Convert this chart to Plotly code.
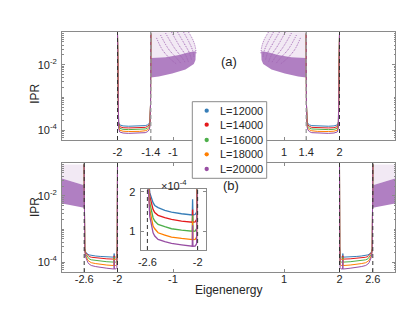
import plotly.graph_objects as go

# ---------------- data ----------------
L_values = [12000, 14000, 16000, 18000, 20000]
colors = ["#377eb8", "#e41a1c", "#4daf4a", "#ff7f00", "#984ea3"]

# extended band of panel (a): E in [-2,-1.4] and [1.4,2]; IPR in units of 1e-4
E_a_left = [-2.000, -1.996, -1.990, -1.980, -1.960, -1.900, -1.800, -1.700, -1.600,
            -1.500, -1.460, -1.430, -1.415, -1.405, -1.400]
E_a_right = [2.000, 1.996, 1.990, 1.980, 1.960, 1.900, 1.800, 1.700, 1.600,
             1.500, 1.460, 1.430, 1.415, 1.405, 1.400]
ipr_a = [
    [900, 40, 4.0, 1.80, 1.45, 1.35, 1.32, 1.32, 1.33, 1.38, 1.45, 1.60, 1.90, 6.0, 900],
    [900, 35, 3.5, 1.60, 1.28, 1.19, 1.17, 1.17, 1.18, 1.22, 1.30, 1.45, 1.75, 6.0, 900],
    [900, 30, 3.0, 1.45, 1.14, 1.06, 1.04, 1.04, 1.05, 1.09, 1.16, 1.30, 1.60, 6.0, 900],
    [900, 25, 2.6, 1.30, 1.00, 0.93, 0.91, 0.91, 0.92, 0.96, 1.02, 1.15, 1.45, 6.0, 900],
    [900, 20, 2.2, 1.15, 0.88, 0.82, 0.80, 0.80, 0.81, 0.84, 0.90, 1.02, 1.30, 6.0, 900],
]

# extended band of panel (b): E in [-2.6,-2] and [2,2.6]; IPR in units of 1e-4
E_b_left = [-2.600, -2.598, -2.590, -2.572, -2.552, -2.532, -2.512, -2.472, -2.392, -2.312,
            -2.192, -2.072, -2.064, -2.060, -2.056, -2.030, -2.012, -2.004, -2.000]
E_b_right = [2.600, 2.598, 2.590, 2.572, 2.552, 2.532, 2.512, 2.472, 2.392, 2.312,
             2.192, 2.072, 2.064, 2.060, 2.056, 2.030, 2.012, 2.004, 2.000]
ipr_b = [
    [900, 50, 2.6, 1.975, 1.81, 1.72, 1.65, 1.594, 1.525, 1.483, 1.44, 1.415, 1.41, 1.81, 1.41, 1.42, 1.48, 3.0, 900],
    [900, 45, 2.5, 1.89, 1.72, 1.55, 1.47, 1.40, 1.34, 1.297, 1.254, 1.229, 1.225, 1.55, 1.225, 1.23, 1.30, 2.8, 900],
    [900, 40, 2.4, 1.72, 1.51, 1.34, 1.254, 1.17, 1.11, 1.059, 1.025, 1.00, 0.995, 1.40, 0.995, 1.00, 1.06, 2.6, 900],
    [900, 35, 2.3, 1.55, 1.297, 1.127, 1.059, 0.957, 0.90, 0.847, 0.814, 0.788, 0.785, 1.25, 0.785, 0.79, 0.85, 2.4, 900],
    [900, 30, 2.2, 1.38, 1.127, 0.957, 0.873, 0.788, 0.73, 0.686, 0.652, 0.618, 0.615, 1.15, 0.615, 0.62, 0.68, 2.2, 900],
]

# localized states, panel (a): dense cloud outline and sparse zone outline
cloud_a_left_E = [-1.40, -1.256, -1.015, -0.775, -0.625, -0.595, -0.590, -0.715, -0.895, -1.135, -1.40]
cloud_a_left_ipr = [0.0041, 0.0044, 0.0054, 0.0071, 0.0105, 0.014, 0.026, 0.024, 0.020, 0.017, 0.016]
cloud_a_right_E = [1.40, 1.256, 1.015, 0.775, 0.625, 0.595, 0.590, 0.715, 0.895, 1.135, 1.40]
cloud_a_right_ipr = [0.0041, 0.0044, 0.0054, 0.0071, 0.0105, 0.014, 0.026, 0.024, 0.020, 0.017, 0.016]
sparse_a_left_E = [-1.40, -0.721, -0.640, -0.595, -0.586, -0.715, -0.895, -1.135, -1.40]
sparse_a_left_ipr = [0.098, 0.098, 0.057, 0.032, 0.026, 0.024, 0.020, 0.017, 0.016]
sparse_a_right_E = [1.40, 0.721, 0.640, 0.595, 0.586, 0.715, 0.895, 1.135, 1.40]
sparse_a_right_ipr = [0.098, 0.098, 0.057, 0.032, 0.026, 0.024, 0.020, 0.017, 0.016]

# arcs of localized states (panel a)
arcs_a_left_E = [
    [-0.721, -0.640, -0.595, -0.586],
    [-0.811, -0.712, -0.649, -0.622],
    [-0.919, -0.793, -0.703, -0.667],
    [-1.027, -0.883, -0.775, -0.721],
    [-1.135, -0.973, -0.847, -0.775],
    [-1.225, -1.081, -0.937, -0.847],
    [-1.297, -1.189, -1.045, -0.937],
]
arcs_a_right_E = [
    [0.721, 0.640, 0.595, 0.586],
    [0.811, 0.712, 0.649, 0.622],
    [0.919, 0.793, 0.703, 0.667],
    [1.027, 0.883, 0.775, 0.721],
    [1.135, 0.973, 0.847, 0.775],
    [1.225, 1.081, 0.937, 0.847],
    [1.297, 1.189, 1.045, 0.937],
]
arcs_a_ipr = [
    [0.100, 0.0569, 0.0324, 0.0214],
    [0.100, 0.0494, 0.0282, 0.0172],
    [0.100, 0.0430, 0.0228, 0.0139],
    [0.100, 0.0373, 0.0198, 0.0121],
    [0.093, 0.0324, 0.0172, 0.0113],
    [0.081, 0.0302, 0.0160, 0.0105],
    [0.066, 0.0282, 0.0149, 0.0105],
]

# localized states, panel (b)
cloud_b_left_E = [-3.0, -2.8, -2.6, -2.6, -2.8, -3.0]
cloud_b_left_ipr = [0.0059, 0.0051, 0.0044, 0.021, 0.027, 0.034]
cloud_b_right_E = [3.0, 2.8, 2.6, 2.6, 2.8, 3.0]
cloud_b_right_ipr = [0.0059, 0.0051, 0.0044, 0.021, 0.027, 0.034]
sparse_b_left_E = [-3.0, -2.8, -2.6, -2.6, -3.0]
sparse_b_left_ipr = [0.034, 0.027, 0.021, 0.09, 0.09]
sparse_b_right_E = [3.0, 2.8, 2.6, 2.6, 3.0]
sparse_b_right_ipr = [0.034, 0.027, 0.021, 0.09, 0.09]

edges_a = [-2.0, -1.4, 1.4, 2.0]
edges_a_color = ["#333333", "#9a9a9a", "#9a9a9a", "#333333"]
edges_b = [-2.6, -2.0, 2.0, 2.6]
edges_inset = [-2.6, -2.0]

xticks_a = [-2, -1.4, -1, 1, 1.4, 2]
xticks_b = [-2.6, -2, -1, 1, 2, 2.6]
xticks_inset = [-2.6, -2]
yticks_log = [1e-4, 1e-2]
yticks_log_text = ["10<sup>-4</sup>", "10<sup>-2</sup>"]
yticks_inset = [1e-4, 2e-4]
yticks_inset_text = ["1", "2"]

# ---------------- figure ----------------
FONT = "Liberation Sans, Arial, Helvetica, sans-serif"
CLOUD = "#b07fc2"
SPARSE = "rgba(152,78,163,0.12)"
ARC = "#a266b4"
fig = go.Figure()

def add_fill(E, ipr, xa, ya, color):
    fig.add_trace(go.Scatter(x=E, y=ipr, mode="lines", fill="toself", fillcolor=color,
                             line=dict(width=0, color=color), xaxis=xa, yaxis=ya,
                             showlegend=False, hoverinfo="skip"))

add_fill(sparse_a_left_E, sparse_a_left_ipr, "x", "y", SPARSE)
add_fill(sparse_a_right_E, sparse_a_right_ipr, "x", "y", SPARSE)
add_fill(cloud_a_left_E, cloud_a_left_ipr, "x", "y", CLOUD)
add_fill(cloud_a_right_E, cloud_a_right_ipr, "x", "y", CLOUD)
add_fill(sparse_b_left_E, sparse_b_left_ipr, "x2", "y2", SPARSE)
add_fill(sparse_b_right_E, sparse_b_right_ipr, "x2", "y2", SPARSE)
add_fill(cloud_b_left_E, cloud_b_left_ipr, "x2", "y2", CLOUD)
add_fill(cloud_b_right_E, cloud_b_right_ipr, "x2", "y2", CLOUD)

for arcE_l, arcE_r, arcI in zip(arcs_a_left_E, arcs_a_right_E, arcs_a_ipr):
    for arcE in (arcE_l, arcE_r):
        fig.add_trace(go.Scatter(x=arcE, y=arcI, mode="lines",
                                 line=dict(color=ARC, width=1, dash="1px,1px", shape="spline"),
                                 xaxis="x", yaxis="y", showlegend=False, hoverinfo="skip"))

for i, L in enumerate(L_values):
    ya = [v * 1e-4 for v in ipr_a[i]]
    yb = [v * 1e-4 for v in ipr_b[i]]
    for E, yy, xa, yax in ((E_a_left, ya, "x", "y"), (E_a_right, ya, "x", "y"),
                           (E_b_left, yb, "x2", "y2"), (E_b_right, yb, "x2", "y2")):
        fig.add_trace(go.Scatter(x=E, y=yy, mode="lines", line=dict(color=colors[i], width=1),
                                 xaxis=xa, yaxis=yax, showlegend=False, name=f"L={L}"))
    fig.add_trace(go.Scatter(x=E_b_left, y=yb, mode="lines", line=dict(color=colors[i], width=1.3),
                             xaxis="x3", yaxis="y3", showlegend=False, name=f"L={L}"))

AX = "#8a8a8a"
TXT = "#262626"
common = dict(showline=True, linecolor=AX, linewidth=1, mirror="allticks", ticks="inside",
              ticklen=3, tickcolor=AX, tickwidth=1, showgrid=False, zeroline=False,
              tickfont=dict(family=FONT, size=11, color=TXT))

minor_vals = [k * 10.0 ** p for p in range(-5, -1) for k in range(1, 10) if not (k == 1 and p in (-4, -2))]
logax = dict(common, type="log", range=[-4.3, -1], tickmode="array", tickvals=yticks_log,
             ticktext=yticks_log_text, ticklabelstandoff=2,
             minor=dict(tickmode="array", tickvals=minor_vals, ticks="inside", ticklen=1.5,
                        tickcolor=AX, showgrid=False))

# page body has an 8px offset; margins compensate so the plot box sits at x 62..395, y 32..272
fig.update_layout(
    width=415, height=312, margin=dict(l=54, r=28, t=24, b=48),
    paper_bgcolor="white", plot_bgcolor="white", showlegend=False,
    font=dict(family=FONT, color=TXT),
    xaxis=dict(common, domain=[0, 1], range=[-3, 3], anchor="y", tickmode="array",
               tickvals=xticks_a, ticktext=[str(t) for t in xticks_a], ticklabelstandoff=2),
    yaxis=dict(logax, domain=[0.55, 1], anchor="x"),
    xaxis2=dict(common, domain=[0, 1], range=[-3, 3], anchor="y2", tickmode="array",
                tickvals=xticks_b, ticktext=[str(t) for t in xticks_b], ticklabelstandoff=-3),
    yaxis2=dict(logax, domain=[0, 0.4546], anchor="x2"),
    xaxis3=dict(common, domain=[0.2363, 0.4324], range=[-2.68, -1.9], anchor="y3",
                tickmode="array", tickvals=xticks_inset, ticktext=[str(t) for t in xticks_inset],
                ticklabelstandoff=2),
    yaxis3=dict(common, domain=[0.0917, 0.3446], range=[0.52e-4, 2.06e-4], anchor="x3",
                tickmode="array", tickvals=yticks_inset, ticktext=yticks_inset_text,
                ticklabelstandoff=2),
)

shapes = []
for e, c in zip(edges_a, edges_a_color):
    shapes.append(dict(type="line", xref="x", yref="y domain", x0=e, x1=e, y0=0, y1=1,
                       layer="above", line=dict(color=c, width=1.3 if c != "#333333" else 1, dash="4px,3px")))
for e in edges_b:
    shapes.append(dict(type="line", xref="x2", yref="y2 domain", x0=e, x1=e, y0=0, y1=1,
                       layer="above", line=dict(color="#333333", width=1, dash="4px,3px")))
for e in edges_inset:
    shapes.append(dict(type="line", xref="x3", yref="y3 domain", x0=e, x1=e, y0=0, y1=1,
                       layer="above", line=dict(color="#333333", width=1, dash="4px,3px")))

# legend box (drawn manually for MATLAB-like compact spacing)
leg_x0, leg_x1, leg_y0, leg_y1 = 0.3913, 0.6147, 0.3904, 0.7096
shapes.append(dict(type="rect", xref="paper", yref="paper", x0=leg_x0, x1=leg_x1, y0=leg_y0, y1=leg_y1,
                   fillcolor="white", line=dict(color=AX, width=1), layer="above"))
row_y = [0.6721, 0.6138, 0.5500, 0.4904, 0.4292]
mx = 0.4345
annotations = []
for i, L in enumerate(L_values):
    shapes.append(dict(type="circle", xref="paper", yref="paper", x0=mx - 0.0065, x1=mx + 0.0065,
                       y0=row_y[i] - 0.009, y1=row_y[i] + 0.009, fillcolor=colors[i],
                       line=dict(width=0), layer="above"))
    annotations.append(dict(xref="paper", yref="paper", x=0.4694, y=row_y[i], xanchor="left",
                            yanchor="middle", text=f"L={L}", showarrow=False,
                            font=dict(family=FONT, size=11, color=TXT)))

annotations += [
    dict(xref="paper", yref="paper", x=-0.108, y=0.793, text="IPR", textangle=-90, showarrow=False,
         font=dict(family=FONT, size=12, color=TXT)),
    dict(xref="paper", yref="paper", x=-0.108, y=0.221, text="IPR", textangle=-90, showarrow=False,
         font=dict(family=FONT, size=12, color=TXT)),
    dict(xref="paper", yref="paper", x=0.4985, y=-0.1125, text="Eigenenergy", showarrow=False,
         font=dict(family=FONT, size=12, color=TXT)),
    dict(xref="paper", yref="paper", x=0.5015, y=0.9146, text="(a)", showarrow=False,
         font=dict(family=FONT, size=13, color=TXT)),
    dict(xref="paper", yref="paper", x=0.509, y=0.319, text="(b)", showarrow=False,
         font=dict(family=FONT, size=13, color=TXT)),
    dict(xref="paper", yref="paper", x=0.2913, y=0.3625, text="×10<sup>-4</sup>", showarrow=False,
         font=dict(family=FONT, size=11, color=TXT)),
]
fig.update_layout(shapes=shapes, annotations=annotations)

fig.write_html("out.html")
